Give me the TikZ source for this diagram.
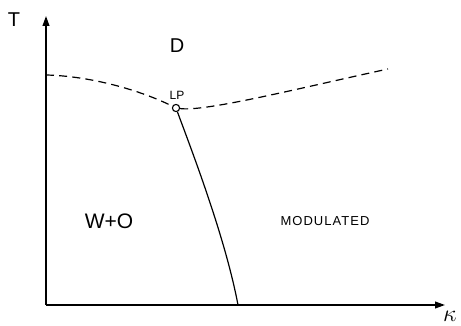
\documentclass[tikz,border=0pt]{standalone}
\usepackage{fontspec}
\setmainfont{Liberation Sans}
\usetikzlibrary{arrows.meta}

\begin{document}
\begin{tikzpicture}[x=0.5pt,y=0.5pt,>={Triangle[length=5pt,width=3.4pt]},
  ax/.style={->,line width=0.75pt},
  lab/.style={inner sep=0pt},
  bdry/.style={line width=0.6pt},
  dsh/.style={line width=0.6pt,dash pattern=on 4pt off 2.6pt}]
\useasboundingbox (0,0) rectangle (461,326);
% axes
\coordinate (O) at (46,21);
\coordinate (Ytip) at (46,310);
\coordinate (Xtip) at (445,21);
\draw[ax] (O) -- (Ytip);
\draw[ax] (O) -- (Xtip);
\node[lab,font=\fontsize{10}{10}\selectfont] (T) at (14,306) {T};
\node[lab,font=\fontsize{12.5}{12.5}\selectfont] (K) at (450,10) {$\kappa$};
% Lifshitz point
\node[draw,circle,line width=0.55pt,inner sep=0pt,minimum size=3.6pt] (LP) at (176,218) {};
\node[lab,font=\fontsize{6}{6}\selectfont] (LPl) at (177,231) {LP};
% lines
\coordinate (Dl) at (46,251);
\coordinate (Dr) at (388,257);
\coordinate (Bend) at (238,21);
\draw[dsh] (Dl) .. controls (90,250) and (140,236) .. (LP);
\draw[dsh] (LP) .. controls (205,214) and (300,238) .. (Dr);
\draw[bdry] (LP) .. controls (190,180) and (225,90) .. (Bend);
% phases
\node[lab,font=\fontsize{10}{10}\selectfont] (D) at (177,280) {D};
\node[lab,font=\fontsize{10.5}{10.5}\selectfont] (WO) at (109,105) {W+O};
\node[lab,font=\fontsize{6.5}{6.5}\selectfont\addfontfeature{LetterSpace=8}] (M) at (325,105) {MODULATED};
\end{tikzpicture}
\end{document}
